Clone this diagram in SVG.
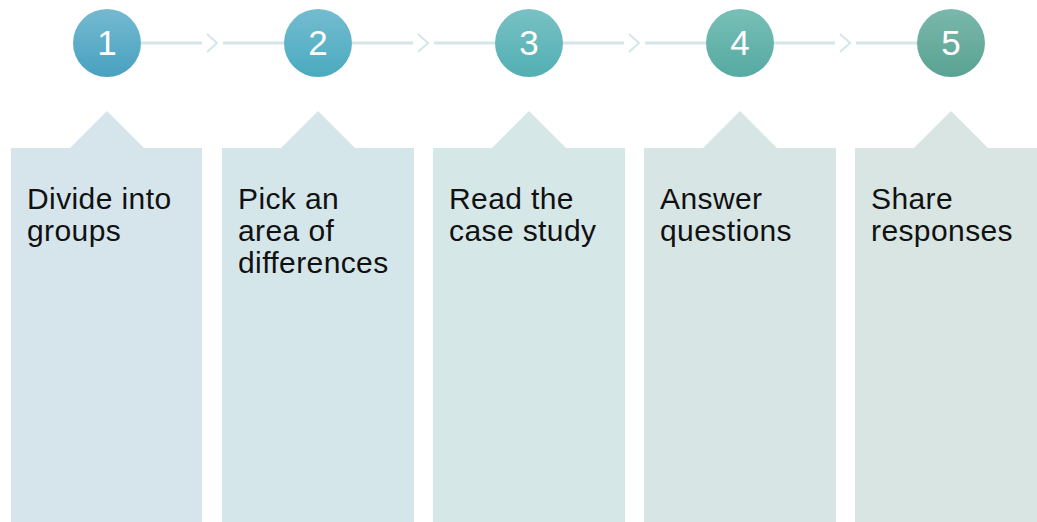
<svg xmlns="http://www.w3.org/2000/svg" width="1037" height="522" viewBox="0 0 1037 522">
  <defs>
    <linearGradient id="g1" x1="0" y1="0" x2="0" y2="1">
      <stop offset="0" stop-color="#75b9d0"/>
      <stop offset="1" stop-color="#48a1c0"/>
    </linearGradient>
    <linearGradient id="g2" x1="0" y1="0" x2="0" y2="1">
      <stop offset="0" stop-color="#74bccf"/>
      <stop offset="1" stop-color="#4aaac0"/>
    </linearGradient>
    <linearGradient id="g3" x1="0" y1="0" x2="0" y2="1">
      <stop offset="0" stop-color="#78c1c4"/>
      <stop offset="1" stop-color="#52afb3"/>
    </linearGradient>
    <linearGradient id="g4" x1="0" y1="0" x2="0" y2="1">
      <stop offset="0" stop-color="#78bfb7"/>
      <stop offset="1" stop-color="#55aaa2"/>
    </linearGradient>
    <linearGradient id="g5" x1="0" y1="0" x2="0" y2="1">
      <stop offset="0" stop-color="#7ab8ab"/>
      <stop offset="1" stop-color="#5aa293"/>
    </linearGradient>
  </defs>
  <style>
    .num { font-family: "Liberation Sans", Arial, sans-serif; font-size: 35px; fill: #ffffff; text-anchor: middle; }
    .lbl { font-family: "Liberation Sans", Arial, sans-serif; font-size: 30px; letter-spacing: 0.4px; fill: #111111; }
    .link { stroke: #d5e6eb; stroke-width: 3; fill: none; }
    .chev { stroke: #d5e6eb; stroke-width: 2; fill: none; }
  </style>

  <!-- connectors between the step circles -->
  <g id="connectors">
    <line class="link" x1="141" y1="43" x2="202" y2="43"/>
    <polyline class="chev" points="207,34 217,43 207,52"/>
    <line class="link" x1="223" y1="43" x2="284" y2="43"/>

    <line class="link" x1="352" y1="43" x2="413" y2="43"/>
    <polyline class="chev" points="418,34 428,43 418,52"/>
    <line class="link" x1="434" y1="43" x2="495" y2="43"/>

    <line class="link" x1="563" y1="43" x2="624" y2="43"/>
    <polyline class="chev" points="629,34 639,43 629,52"/>
    <line class="link" x1="645" y1="43" x2="706" y2="43"/>

    <line class="link" x1="774" y1="43" x2="835" y2="43"/>
    <polyline class="chev" points="840,34 850,43 840,52"/>
    <line class="link" x1="856" y1="43" x2="917" y2="43"/>
  </g>

  <!-- step 1 -->
  <g id="step1">
    <circle cx="107" cy="43" r="34" fill="url(#g1)"/>
    <text class="num" x="107" y="55">1</text>
    <path d="M11,148 H70 L107,111 L144,148 H202 V522 H11 Z" fill="#d5e5eb"/>
    <text class="lbl" x="27" y="209">Divide into</text>
    <text class="lbl" x="27" y="241">groups</text>
  </g>

  <!-- step 2 -->
  <g id="step2">
    <circle cx="318" cy="43" r="34" fill="url(#g2)"/>
    <text class="num" x="318" y="55">2</text>
    <path d="M222,148 H281 L318,111 L355,148 H414 V522 H222 Z" fill="#d5e6ea"/>
    <text class="lbl" x="238" y="209">Pick an</text>
    <text class="lbl" x="238" y="241">area of</text>
    <text class="lbl" x="238" y="273">differences</text>
  </g>

  <!-- step 3 -->
  <g id="step3">
    <circle cx="529" cy="43" r="34" fill="url(#g3)"/>
    <text class="num" x="529" y="55">3</text>
    <path d="M433,148 H492 L529,111 L566,148 H625 V522 H433 Z" fill="#d6e7e8"/>
    <text class="lbl" x="449" y="209">Read the</text>
    <text class="lbl" x="449" y="241">case study</text>
  </g>

  <!-- step 4 -->
  <g id="step4">
    <circle cx="740" cy="43" r="34" fill="url(#g4)"/>
    <text class="num" x="740" y="55">4</text>
    <path d="M644,148 H703 L740,111 L777,148 H836 V522 H644 Z" fill="#d7e6e5"/>
    <text class="lbl" x="660" y="209">Answer</text>
    <text class="lbl" x="660" y="241">questions</text>
  </g>

  <!-- step 5 -->
  <g id="step5">
    <circle cx="951" cy="43" r="34" fill="url(#g5)"/>
    <text class="num" x="951" y="55">5</text>
    <path d="M855,148 H914 L951,111 L988,148 H1037 V522 H855 Z" fill="#d8e5e2"/>
    <text class="lbl" x="871" y="209">Share</text>
    <text class="lbl" x="871" y="241">responses</text>
  </g>
</svg>
